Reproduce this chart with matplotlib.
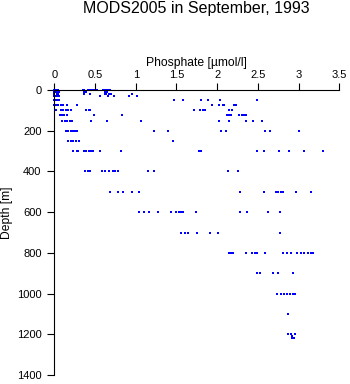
import matplotlib
matplotlib.use('Agg')
import matplotlib.pyplot as plt
from matplotlib.ticker import FixedLocator, FixedFormatter

plt.rcParams['font.family'] = ['Liberation Sans', 'DejaVu Sans']

# Phosphate [umol/l] observed at each standard depth level [m]
p_0 = [0.0, 0.01, 0.02, 0.03, 0.04, 0.05, 0.35, 0.37, 0.41, 0.43, 0.45, 0.47, 0.49, 0.52, 0.60, 0.62, 0.64, 0.66, 0.68]
p_10 = [0.0, 0.02, 0.04, 0.06, 0.37, 0.39, 0.62, 0.65]
p_20 = [0.0, 0.03, 0.05, 0.37, 0.44, 0.62, 0.64, 0.67, 0.70, 0.96]
p_30 = [0.0, 0.02, 0.04, 0.06, 0.56, 0.66, 0.73, 0.92, 1.02]
p_50 = [0.0, 0.02, 0.04, 0.06, 1.47, 1.58, 1.80, 1.89, 2.04, 2.49]
p_75 = [0.0, 0.02, 0.04, 0.08, 0.11, 0.15, 0.28, 1.94, 2.02, 2.07, 2.09, 2.21, 2.23]
p_100 = [0.02, 0.08, 0.11, 0.14, 0.17, 0.20, 0.39, 0.42, 0.44, 1.72, 1.79, 1.82, 1.85, 2.15, 2.18]
p_125 = [0.07, 0.10, 0.12, 0.15, 0.49, 0.83, 2.12, 2.14, 2.17, 2.27, 2.30, 2.33, 2.35]
p_150 = [0.10, 0.13, 0.16, 0.19, 0.22, 0.45, 0.65, 1.07, 2.02, 2.15, 2.35, 2.44, 2.55]
p_200 = [0.14, 0.17, 0.20, 0.23, 0.26, 0.28, 1.23, 1.40, 2.05, 2.11, 2.59, 2.65, 3.01]
p_250 = [0.17, 0.20, 0.23, 0.27, 0.30, 1.46]
p_300 = [0.23, 0.28, 0.29, 0.36, 0.39, 0.42, 0.45, 0.47, 0.56, 0.82, 1.78, 1.80, 2.49, 2.58, 2.76, 2.88, 3.07, 3.30]
p_400 = [0.38, 0.41, 0.44, 0.59, 0.62, 0.67, 0.72, 0.75, 0.78, 1.15, 1.22, 2.13, 2.26]
p_500 = [0.68, 0.78, 0.84, 0.95, 1.04, 2.28, 2.58, 2.72, 2.75, 2.78, 2.81, 2.97, 3.15]
p_600 = [1.04, 1.10, 1.16, 1.27, 1.43, 1.50, 1.53, 1.56, 1.58, 1.74, 2.28, 2.37, 2.63, 2.77]
p_700 = [1.56, 1.60, 1.64, 1.75, 1.91, 2.01, 2.77]
p_800 = [2.14, 2.17, 2.20, 2.36, 2.43, 2.46, 2.49, 2.59, 2.81, 2.86, 2.91, 2.98, 3.03, 3.07, 3.11, 3.15, 3.18]
p_900 = [2.49, 2.52, 2.68, 2.75, 2.93]
p_1000 = [2.74, 2.78, 2.82, 2.86, 2.90, 2.93, 2.96]
p_1100 = [2.87]
p_1200 = [2.87, 2.91, 2.95]
p_1210 = [2.92]
p_1220 = [2.92, 2.94]

levels = [0, 10, 20, 30, 50, 75, 100, 125, 150, 200, 250, 300, 400, 500,
          600, 700, 800, 900, 1000, 1100, 1200, 1210, 1220]
values = [p_0, p_10, p_20, p_30, p_50, p_75, p_100, p_125, p_150, p_200, p_250,
          p_300, p_400, p_500, p_600, p_700, p_800, p_900, p_1000, p_1100,
          p_1200, p_1210, p_1220]

x_ticks = [0, 0.5, 1, 1.5, 2, 2.5, 3, 3.5]
x_labels = ['0', '0.5', '1', '1.5', '2', '2.5', '3', '3.5']
y_ticks = [0, 200, 400, 600, 800, 1000, 1200, 1400]
y_labels = ['0', '200', '400', '600', '800', '1000', '1200', '1400']

W, H = 350, 384
fig = plt.figure(figsize=(W / 100, H / 100), dpi=100)
ax = fig.add_axes([54.3 / W, 1 - 375 / H, (339.3 - 54.3) / W, (375 - 90) / H])

for d, vals in zip(levels, values):
    ax.plot(vals, [d] * len(vals), linestyle='none', marker='s', ms=2.1,
            mew=0, color='#0000ff', clip_on=False)

ax.set_xlim(0, 3.5)
ax.set_ylim(1400, 0)
ax.xaxis.tick_top()
ax.xaxis.set_label_position('top')
for s in ['bottom', 'right']:
    ax.spines[s].set_visible(False)
for s in ['top', 'left']:
    ax.spines[s].set_linewidth(0.8)

ax.xaxis.set_major_locator(FixedLocator(x_ticks))
ax.xaxis.set_major_formatter(FixedFormatter(x_labels))
ax.yaxis.set_major_locator(FixedLocator(y_ticks))
ax.yaxis.set_major_formatter(FixedFormatter(y_labels))
ax.tick_params(axis='both', direction='out', length=4.7, width=0.8,
               labelsize=8, pad=2.5)
ax.tick_params(axis='y', pad=4.5)

ax.set_xlabel('Phosphate [µmol/l]', fontsize=8.7, labelpad=3)
fig.text(7.5 / W, 1 - 212.5 / H, 'Depth [m]', rotation=90, fontsize=8.7,
         ha='center', va='center')
fig.text(196.8 / W, 1 - 13.3 / H, 'MODS2005 in September, 1993',
         fontsize=11.5, ha='center', va='baseline')

fig.savefig('out.png', dpi=100)
